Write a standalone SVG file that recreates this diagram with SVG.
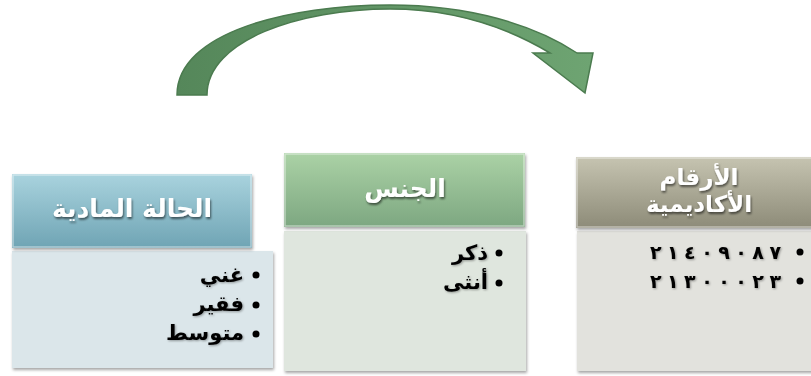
<svg xmlns="http://www.w3.org/2000/svg" width="811" height="376" viewBox="0 0 811 376">
  <defs>
    <linearGradient id="gBlue" x1="0" y1="0" x2="0" y2="1">
      <stop offset="0" stop-color="#a9d3de"/>
      <stop offset="1" stop-color="#6fa4b4"/>
    </linearGradient>
    <linearGradient id="gGreen" x1="0" y1="0" x2="0" y2="1">
      <stop offset="0" stop-color="#abd2a6"/>
      <stop offset="1" stop-color="#7da781"/>
    </linearGradient>
    <linearGradient id="gTan" x1="0" y1="0" x2="0" y2="1">
      <stop offset="0" stop-color="#c6c4b1"/>
      <stop offset="1" stop-color="#8d8b78"/>
    </linearGradient>
    <linearGradient id="gArrow" x1="0" y1="0" x2="1" y2="0">
      <stop offset="0" stop-color="#55875a"/>
      <stop offset="1" stop-color="#6ea472"/>
    </linearGradient>
    <filter id="boxShadow" x="-5%" y="-5%" width="112%" height="115%">
      <feDropShadow dx="1" dy="2" stdDeviation="1.5" flood-color="#000" flood-opacity="0.35"/>
    </filter>
    <filter id="txtShadow" x="-10%" y="-20%" width="120%" height="150%">
      <feDropShadow dx="1" dy="2" stdDeviation="1.2" flood-color="#000" flood-opacity="0.55"/>
    </filter>
    <filter id="bodyTxt" x="-10%" y="-20%" width="120%" height="150%">
      <feDropShadow dx="1" dy="1" stdDeviation="0.8" flood-color="#000" flood-opacity="0.35"/>
    </filter>
  </defs>
  <style>
    .head { stroke: #ffffff; stroke-opacity: 0.45; stroke-width: 1.5; }
    .htxt { font-family: "DejaVu Sans", "Liberation Sans", sans-serif; font-weight: bold; fill: #ffffff; text-anchor: middle; }
    .btxt { font-family: "DejaVu Sans", "Liberation Sans", sans-serif; font-weight: bold; fill: #000000; text-anchor: end; font-size: 21px; }
    .num { font-size: 19px; }
    .dot { fill: #000000; }
  </style>

  <!-- curved arrow -->
  <g id="connectors">
    <path d="M177,95 C177,32 290,5 390,5 C470,5 535,25 577,53 L593,53 L585,93 L533,53 L550,53 C505,26 450,9 390,9 C300,9 207,40 207,95 Z"
          fill="url(#gArrow)" stroke="#4b7b4f" stroke-width="1.5" stroke-linejoin="miter"/>
  </g>

  <!-- financial status -->
  <g id="node-financial">
    <rect x="12" y="251" width="261" height="117" fill="#dbe6ea" filter="url(#boxShadow)"/>
    <rect x="12" y="174" width="240" height="74" fill="url(#gBlue)" filter="url(#boxShadow)"/>
    <rect x="13" y="175" width="238" height="72" fill="none" class="head"/>
    <text x="132" y="217" class="htxt" font-size="25" filter="url(#txtShadow)">الحالة المادية</text>
    <circle cx="256" cy="275" r="3.5" class="dot"/>
    <text x="244" y="282" class="btxt" filter="url(#bodyTxt)">غني</text>
    <circle cx="256" cy="305" r="3.5" class="dot"/>
    <text x="244" y="311" class="btxt" filter="url(#bodyTxt)">فقير</text>
    <circle cx="256" cy="334" r="3.5" class="dot"/>
    <text x="244" y="340" class="btxt" filter="url(#bodyTxt)">متوسط</text>
  </g>

  <!-- gender -->
  <g id="node-gender">
    <rect x="284" y="231" width="242" height="140" fill="#dfe6de" filter="url(#boxShadow)"/>
    <rect x="284" y="153" width="241" height="74" fill="url(#gGreen)" filter="url(#boxShadow)"/>
    <rect x="285" y="154" width="239" height="72" fill="none" class="head"/>
    <text x="405" y="197" class="htxt" font-size="25" filter="url(#txtShadow)">الجنس</text>
    <circle cx="499" cy="253" r="3.5" class="dot"/>
    <text x="488" y="260" class="btxt" filter="url(#bodyTxt)">ذكر</text>
    <circle cx="499" cy="283" r="3.5" class="dot"/>
    <text x="488" y="289" class="btxt" filter="url(#bodyTxt)">أنثى</text>
  </g>

  <!-- academic numbers -->
  <g id="node-academic">
    <rect x="577" y="231" width="240" height="140" fill="#e2e2dd" filter="url(#boxShadow)"/>
    <rect x="576" y="157" width="241" height="71" fill="url(#gTan)" filter="url(#boxShadow)"/>
    <rect x="577" y="158" width="239" height="69" fill="none" class="head"/>
    <text x="699" y="185" class="htxt" font-size="23" filter="url(#txtShadow)">الأرقام</text>
    <text x="699" y="212" class="htxt" font-size="23" filter="url(#txtShadow)">الأكاديمية</text>
    <circle cx="800" cy="252" r="3.5" class="dot"/>
    <text x="781" y="259" class="btxt num" textLength="131" lengthAdjust="spacing" filter="url(#bodyTxt)">٢١٤٠٩٠٨٧</text>
    <circle cx="800" cy="281" r="3.5" class="dot"/>
    <text x="781" y="288" class="btxt num" textLength="131" lengthAdjust="spacing" filter="url(#bodyTxt)">٢١٣٠٠٠٢٣</text>
  </g>
</svg>
